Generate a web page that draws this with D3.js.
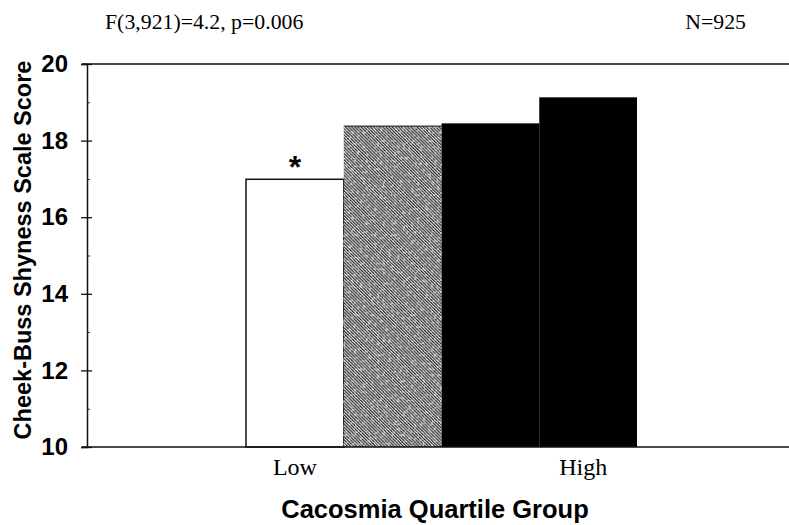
<!DOCTYPE html>
<html>
<head>
<meta charset="utf-8">
<script src="https://cdn.jsdelivr.net/npm/d3@7"></script>
<style>
  body { margin: 0; background: #fff; }
  svg { display: block; }
</style>
</head>
<body>
<svg id="chart" width="789" height="525"></svg>
<script>
// Cacosmia quartile groups (lowest to highest) and mean shyness scores
const groups = ["Q1", "Q2", "Q3", "Q4"];
const scores = [16.99, 18.38, 18.45, 19.13];
const groupFills = ["white", "hatch", "black", "black"];
const significance = ["*", "", "", ""];
const yTicks = [10, 12, 14, 16, 18, 20];
const yMinorTicks = [11, 13, 15, 17, 19];
const xTickLabels = ["Low", "", "", "High"];
const statText = "F(3,921)=4.2, p=0.006";
const sampleText = "N=925";
const yTitle = "Cheek-Buss Shyness Scale Score";
const xTitle = "Cacosmia Quartile Group";

const svg = d3.select("#chart");
const axisX = 87, plotRight = 789, plotLeft = 82;

const y = d3.scaleLinear().domain([10, 20]).range([447, 64]);
const x = d3.scaleBand().domain(groups).range([246, 637]).paddingInner(0).paddingOuter(0);

const defs = svg.append("defs");

// fine diagonal hatch for the second quartile
const pat = defs.append("pattern")
  .attr("id", "hatch")
  .attr("patternUnits", "userSpaceOnUse")
  .attr("width", 2.2).attr("height", 8)
  .attr("patternTransform", "rotate(-45)");
pat.append("rect").attr("width", 2.2).attr("height", 8).attr("fill", "#d8d8d8");
pat.append("rect").attr("width", 1.15).attr("height", 8).attr("fill", "#2e2e2e");

// light speckle laid over the hatch
const speckle = defs.append("filter")
  .attr("id", "speckle")
  .attr("x", 0).attr("y", 0).attr("width", 1).attr("height", 1);
speckle.append("feTurbulence")
  .attr("type", "fractalNoise").attr("baseFrequency", 0.35)
  .attr("numOctaves", 2).attr("seed", 7).attr("result", "noise");
speckle.append("feColorMatrix")
  .attr("in", "noise").attr("type", "matrix")
  .attr("values", "0 0 0 0 1  0 0 0 0 1  0 0 0 0 1  5 0 0 0 -2.6");

const fillFor = f => f === "hatch" ? "url(#hatch)" : f;

// bars
const bars = svg.append("g");
bars.selectAll("rect.bar")
  .data(groups)
  .join("rect")
  .attr("class", "bar")
  .attr("x", d => x(d))
  .attr("y", (d, i) => y(scores[i]))
  .attr("width", x.bandwidth())
  .attr("height", (d, i) => y(10) - y(scores[i]))
  .attr("fill", (d, i) => fillFor(groupFills[i]))
  .attr("stroke", (d, i) => groupFills[i] === "white" ? "#111" : "none")
  .attr("stroke-width", 1.5);

const hatched = groups.filter((d, i) => groupFills[i] === "hatch");

bars.selectAll("rect.grain")
  .data(hatched)
  .join("rect")
  .attr("class", "grain")
  .attr("x", d => x(d))
  .attr("y", d => y(scores[groups.indexOf(d)]))
  .attr("width", x.bandwidth())
  .attr("height", d => y(10) - y(scores[groups.indexOf(d)]))
  .attr("fill", "#fff")
  .attr("opacity", 0.5)
  .attr("filter", "url(#speckle)");

bars.selectAll("line.cap")
  .data(hatched)
  .join("line")
  .attr("class", "cap")
  .attr("x1", d => x(d)).attr("x2", d => x(d) + x.bandwidth())
  .attr("y1", d => y(scores[groups.indexOf(d)]))
  .attr("y2", d => y(scores[groups.indexOf(d)]))
  .attr("stroke", "#333").attr("stroke-width", 1.2);

// significance marker
svg.append("g").selectAll("text")
  .data(groups)
  .join("text")
  .attr("x", d => x(d) + x.bandwidth() / 2)
  .attr("y", (d, i) => y(scores[i]) - 1)
  .attr("text-anchor", "middle")
  .attr("font-family", "Liberation Sans, Arial, sans-serif")
  .attr("font-weight", "bold")
  .attr("font-size", 32)
  .text((d, i) => significance[i]);

// frame lines at top and bottom of the value range
svg.append("g").selectAll("line")
  .data([20, 10])
  .join("line")
  .attr("x1", plotLeft).attr("x2", plotRight)
  .attr("y1", d => y(d)).attr("y2", d => y(d))
  .attr("stroke", "#111").attr("stroke-width", 1.5);

// y axis with major ticks crossing the axis line
const yAxis = svg.append("g")
  .attr("transform", `translate(${axisX},0)`)
  .call(d3.axisLeft(y).tickValues(yTicks).tickSize(6).tickPadding(13).tickFormat(d3.format("d")));
yAxis.select(".domain").attr("stroke", "#111").attr("stroke-width", 1.5);
yAxis.selectAll(".tick line").attr("stroke", "#111").attr("stroke-width", 1.3);
yAxis.selectAll(".tick text")
  .attr("font-family", "Liberation Sans, Arial, sans-serif")
  .attr("font-weight", "bold")
  .attr("font-size", 24)
  .attr("fill", "#000");

const yInner = svg.append("g")
  .attr("transform", `translate(${axisX},0)`)
  .call(d3.axisRight(y).tickValues(yTicks).tickSize(5).tickFormat(""));
yInner.select(".domain").remove();
yInner.selectAll(".tick line").attr("stroke", "#111").attr("stroke-width", 1.3);

const yMinor = svg.append("g")
  .attr("transform", `translate(${axisX},0)`)
  .call(d3.axisRight(y).tickValues(yMinorTicks).tickSize(3).tickFormat(""));
yMinor.select(".domain").remove();
yMinor.selectAll(".tick line").attr("stroke", "#333").attr("stroke-width", 1);

// x category labels
svg.append("g").selectAll("text")
  .data(groups)
  .join("text")
  .attr("x", d => x(d) + x.bandwidth() / 2)
  .attr("dx", (d, i) => i === groups.length - 1 ? -5 : 0)
  .attr("y", 475)
  .attr("text-anchor", "middle")
  .attr("font-family", "Liberation Serif, Times New Roman, serif")
  .attr("font-size", 24)
  .text((d, i) => xTickLabels[i]);

// axis titles
svg.append("text")
  .attr("x", 435).attr("y", 518)
  .attr("text-anchor", "middle")
  .attr("font-family", "Liberation Sans, Arial, sans-serif")
  .attr("font-weight", "bold")
  .attr("font-size", 25.5)
  .text(xTitle);

svg.append("text")
  .attr("transform", "translate(31,250) rotate(-90)")
  .attr("text-anchor", "middle")
  .attr("font-family", "Liberation Sans, Arial, sans-serif")
  .attr("font-weight", "bold")
  .attr("font-size", 23.5)
  .text(yTitle);

// statistics annotations
svg.append("text")
  .attr("x", 105).attr("y", 29)
  .attr("font-family", "Liberation Serif, Times New Roman, serif")
  .attr("font-size", 21.8)
  .text(statText);

svg.append("text")
  .attr("x", 746).attr("y", 29)
  .attr("text-anchor", "end")
  .attr("font-family", "Liberation Serif, Times New Roman, serif")
  .attr("font-size", 21.8)
  .text(sampleText);
</script>
</body>
</html>
